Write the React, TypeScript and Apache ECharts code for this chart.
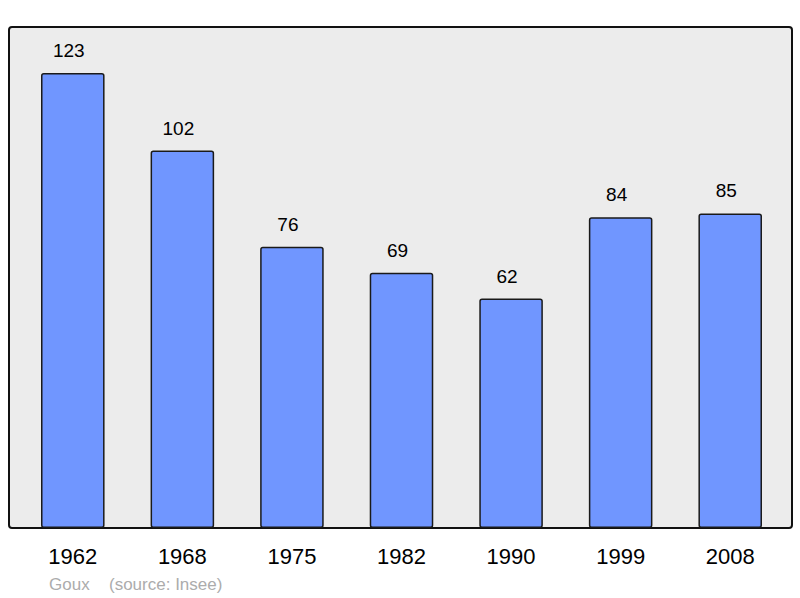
import React, { useEffect, useRef } from "react";
import * as echarts from "echarts";

const years = ["1962", "1968", "1975", "1982", "1990", "1999", "2008"];
const population = [123, 102, 76, 69, 62, 84, 85];
const footerName = "Goux";
const footerSource = "(source: Insee)";

export default function App() {
  const ref = useRef<HTMLDivElement>(null);
  useEffect(() => {
    if (!ref.current) return;
    const chart = echarts.init(ref.current, null, { renderer: "svg" });
    chart.setOption({
      animation: false,
      textStyle: { fontFamily: "Liberation Sans" },
      graphic: [
        {
          type: "rect",
          z: -10,
          shape: { x: 9, y: 27, width: 783, height: 501, r: 3 },
          style: { fill: "#ececec", stroke: "#111", lineWidth: 2 },
        },
        {
          type: "text",
          x: 49,
          y: 584,
          style: {
            text: footerName,
            fill: "#acacac",
            font: "17px 'Liberation Sans'",
            verticalAlign: "middle",
          },
        },
        {
          type: "text",
          x: 109,
          y: 584,
          style: {
            text: footerSource,
            fill: "#acacac",
            font: "17px 'Liberation Sans'",
            verticalAlign: "middle",
          },
        },
      ],
      grid: { left: 18, right: 15, top: 27, bottom: 70 },
      xAxis: {
        type: "category",
        data: years,
        axisLine: { show: false },
        axisTick: { show: false },
        axisLabel: {
          color: "#000",
          fontSize: 22,
          margin: 17,
          fontFamily: "Liberation Sans",
        },
      },
      yAxis: {
        type: "value",
        min: 0,
        max: 135.4,
        show: false,
        splitLine: { show: false },
      },
      series: [
        {
          type: "bar",
          data: population,
          barWidth: "58%",
          itemStyle: {
            color: "#7096ff",
            borderColor: "#1a1a1a",
            borderWidth: 1.5,
            borderRadius: 2,
          },
          label: {
            show: true,
            position: "top",
            distance: 13,
            offset: [-4, 0],
            color: "#000",
            fontSize: 19,
            fontFamily: "Liberation Sans",
          },
        },
      ],
    });
    return () => chart.dispose();
  }, []);
  return <div ref={ref} style={{ width: 800, height: 598, position: "absolute", left: 0, top: 0 }} />;
}
